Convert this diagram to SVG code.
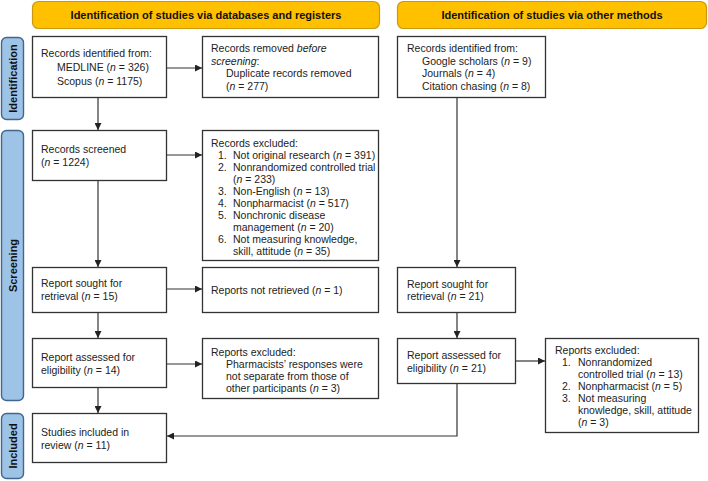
<svg xmlns="http://www.w3.org/2000/svg" width="708" height="481" viewBox="0 0 708 481">
<defs>
<style>
text{font-family:"Liberation Sans",Arial,sans-serif;font-size:10.5px;fill:#222}
.hdr{fill:#FFC000;stroke:#C99A10;stroke-width:1.2}
.hdrt{font-weight:bold;font-size:11px;text-anchor:middle;fill:#111}
.side{fill:#9DC3E6;stroke:#41678F;stroke-width:1.4}
.sidet{font-weight:bold;font-size:11px;text-anchor:middle;fill:#111}
.box{fill:#fff;stroke:#333;stroke-width:1.3}
.con{fill:none;stroke:#333;stroke-width:1.2}
.i{font-style:italic}
</style>
<marker id="ah" viewBox="0 0 10 10" refX="10" refY="5" markerWidth="7" markerHeight="7" markerUnits="userSpaceOnUse" orient="auto">
<path d="M0,0 L10,5 L0,10 z" fill="#222"/>
</marker>
</defs>

<g id="header-db">
<rect class="hdr" x="32.5" y="1.5" width="347" height="27" rx="6"/>
<text class="hdrt" x="206" y="19">Identification of studies via databases and registers</text>
</g>
<g id="header-other">
<rect class="hdr" x="397.5" y="1.5" width="309" height="27" rx="6"/>
<text class="hdrt" x="552" y="19">Identification of studies via other methods</text>
</g>

<g id="label-identification">
<rect class="side" x="1.5" y="37.5" width="22" height="82" rx="5"/>
<text class="sidet" transform="translate(16.5,78.5) rotate(-90)">Identification</text>
</g>
<g id="label-screening">
<rect class="side" x="1.5" y="130.5" width="22" height="270" rx="5"/>
<text class="sidet" transform="translate(16.5,265.5) rotate(-90)">Screening</text>
</g>
<g id="label-included">
<rect class="side" x="1.5" y="413.5" width="22" height="65" rx="5"/>
<text class="sidet" transform="translate(16.5,446) rotate(-90)">Included</text>
</g>

<g id="connectors">
<line class="con" x1="167" y1="68" x2="202" y2="68" marker-end="url(#ah)"/>
<line class="con" x1="98" y1="97" x2="98" y2="130" marker-end="url(#ah)"/>
<line class="con" x1="167" y1="155" x2="202" y2="155" marker-end="url(#ah)"/>
<line class="con" x1="98" y1="180" x2="98" y2="267" marker-end="url(#ah)"/>
<line class="con" x1="167" y1="289" x2="202" y2="289" marker-end="url(#ah)"/>
<line class="con" x1="98" y1="312" x2="98" y2="338" marker-end="url(#ah)"/>
<line class="con" x1="167" y1="364" x2="202" y2="364" marker-end="url(#ah)"/>
<line class="con" x1="98" y1="387" x2="98" y2="413" marker-end="url(#ah)"/>
<line class="con" x1="457" y1="97" x2="457" y2="267" marker-end="url(#ah)"/>
<line class="con" x1="457" y1="312" x2="457" y2="338" marker-end="url(#ah)"/>
<line class="con" x1="515" y1="361" x2="545" y2="361" marker-end="url(#ah)"/>
<polyline class="con" points="457,383 457,436 167,436" marker-end="url(#ah)"/>
</g>

<g id="records-identified-db">
<rect class="box" x="32.5" y="36.5" width="134" height="61"/>
<text x="41" y="57">Records identified from:</text>
<text x="57" y="71">MEDLINE (<tspan class="i">n</tspan> = 326)</text>
<text x="57" y="85">Scopus (<tspan class="i">n</tspan> = 1175)</text>
</g>
<g id="records-removed">
<rect class="box" x="202.5" y="36.5" width="176" height="61"/>
<text x="211" y="52">Records removed <tspan class="i">before</tspan></text>
<text x="211" y="65"><tspan class="i">screening</tspan>:</text>
<text x="226" y="77">Duplicate records removed</text>
<text x="226" y="90">(<tspan class="i">n</tspan> = 277)</text>
</g>
<g id="records-identified-other">
<rect class="box" x="397.5" y="36.5" width="148" height="61"/>
<text x="407" y="52">Records identified from:</text>
<text x="422" y="65">Google scholars (<tspan class="i">n</tspan> = 9)</text>
<text x="422" y="77">Journals (<tspan class="i">n</tspan> = 4)</text>
<text x="422" y="90">Citation chasing (<tspan class="i">n</tspan> = 8)</text>
</g>

<g id="records-screened">
<rect class="box" x="32.5" y="130.5" width="134" height="50"/>
<text x="41" y="153">Records screened</text>
<text x="41" y="166">(<tspan class="i">n</tspan> = 1224)</text>
</g>
<g id="records-excluded">
<rect class="box" x="202.5" y="130.5" width="176" height="130"/>
<text x="211" y="147">Records excluded:</text>
<text x="218" y="159">1.</text><text x="233" y="159">Not original research (<tspan class="i">n</tspan> = 391)</text>
<text x="218" y="171">2.</text><text x="233" y="171">Nonrandomized controlled trial</text>
<text x="233" y="183">(<tspan class="i">n</tspan> = 233)</text>
<text x="218" y="195">3.</text><text x="233" y="195">Non-English (<tspan class="i">n</tspan> = 13)</text>
<text x="218" y="207">4.</text><text x="233" y="207">Nonpharmacist (<tspan class="i">n</tspan> = 517)</text>
<text x="218" y="219">5.</text><text x="233" y="219">Nonchronic disease</text>
<text x="233" y="231">management (<tspan class="i">n</tspan> = 20)</text>
<text x="218" y="243">6.</text><text x="233" y="243">Not measuring knowledge,</text>
<text x="233" y="255">skill, attitude (<tspan class="i">n</tspan> = 35)</text>
</g>

<g id="report-sought-db">
<rect class="box" x="32.5" y="267.5" width="134" height="45"/>
<text x="41" y="287">Report sought for</text>
<text x="41" y="300">retrieval (<tspan class="i">n</tspan> = 15)</text>
</g>
<g id="reports-not-retrieved">
<rect class="box" x="202.5" y="267.5" width="176" height="45"/>
<text x="211" y="294">Reports not retrieved (<tspan class="i">n</tspan> = 1)</text>
</g>
<g id="report-sought-other">
<rect class="box" x="397.5" y="267.5" width="118" height="45"/>
<text x="407" y="288">Report sought for</text>
<text x="407" y="300">retrieval (<tspan class="i">n</tspan> = 21)</text>
</g>

<g id="report-assessed-db">
<rect class="box" x="32.5" y="338.5" width="134" height="49"/>
<text x="41" y="361">Report assessed for</text>
<text x="41" y="374">eligibility (<tspan class="i">n</tspan> = 14)</text>
</g>
<g id="reports-excluded-db">
<rect class="box" x="202.5" y="338.5" width="176" height="60"/>
<text x="211" y="356">Reports excluded:</text>
<text x="226" y="368">Pharmacists’ responses were</text>
<text x="226" y="380">not separate from those of</text>
<text x="226" y="392">other participants (<tspan class="i">n</tspan> = 3)</text>
</g>
<g id="report-assessed-other">
<rect class="box" x="397.5" y="338.5" width="118" height="45"/>
<text x="407" y="359">Report assessed for</text>
<text x="407" y="372">eligibility (<tspan class="i">n</tspan> = 21)</text>
</g>
<g id="reports-excluded-other">
<rect class="box" x="545.5" y="338.5" width="153" height="94"/>
<text x="555" y="354">Reports excluded:</text>
<text x="562" y="366">1.</text><text x="578" y="366">Nonrandomized</text>
<text x="578" y="378">controlled trial (<tspan class="i">n</tspan> = 13)</text>
<text x="562" y="390">2.</text><text x="578" y="390">Nonpharmacist (<tspan class="i">n</tspan> = 5)</text>
<text x="562" y="402">3.</text><text x="578" y="402">Not measuring</text>
<text x="578" y="414">knowledge, skill, attitude</text>
<text x="578" y="426">(<tspan class="i">n</tspan> = 3)</text>
</g>

<g id="studies-included">
<rect class="box" x="32.5" y="413.5" width="134" height="49"/>
<text x="41" y="436">Studies included in</text>
<text x="41" y="449">review (<tspan class="i">n</tspan> = 11)</text>
</g>
</svg>
